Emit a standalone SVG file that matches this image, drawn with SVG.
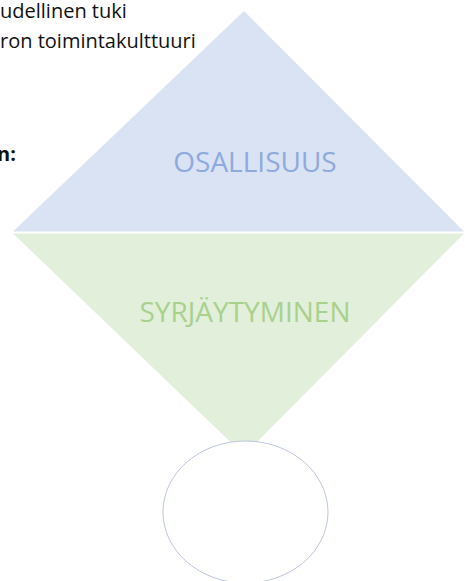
<svg xmlns="http://www.w3.org/2000/svg" width="465" height="581" viewBox="0 0 465 581">
<style>
.side{font-family:"Open Sans","Liberation Sans",sans-serif;font-size:20px;fill:#111111}
.lbl{font-family:"Open Sans","Liberation Sans",sans-serif;font-size:28px;text-anchor:middle}
</style>
<rect width="465" height="581" fill="#ffffff"/>
<g id="side-text">
<text class="side" x="0" y="18">udellinen tuki</text>
<text class="side" x="0" y="48">ron toimintakulttuuri</text>
<text class="side" x="-3" y="161" font-weight="bold">n:</text>
</g>
<g id="osallisuus">
<polygon points="244,11 464,231.5 13,231.5" fill="#dae3f3"/>
<text class="lbl" x="255" y="172" fill="#8faadc">OSALLISUUS</text>
</g>
<g id="syrjaytyminen">
<polygon points="13,233.5 464,233.5 244,455" fill="#e2efda"/>
<text class="lbl" x="245" y="322" fill="#a9d18e">SYRJÄYTYMINEN</text>
</g>
<g id="circle">
<ellipse cx="245.5" cy="512" rx="82.5" ry="71" fill="#ffffff" stroke="#bcc6e0" stroke-width="1"/>
</g>
<g id="connectors"/>
</svg>
